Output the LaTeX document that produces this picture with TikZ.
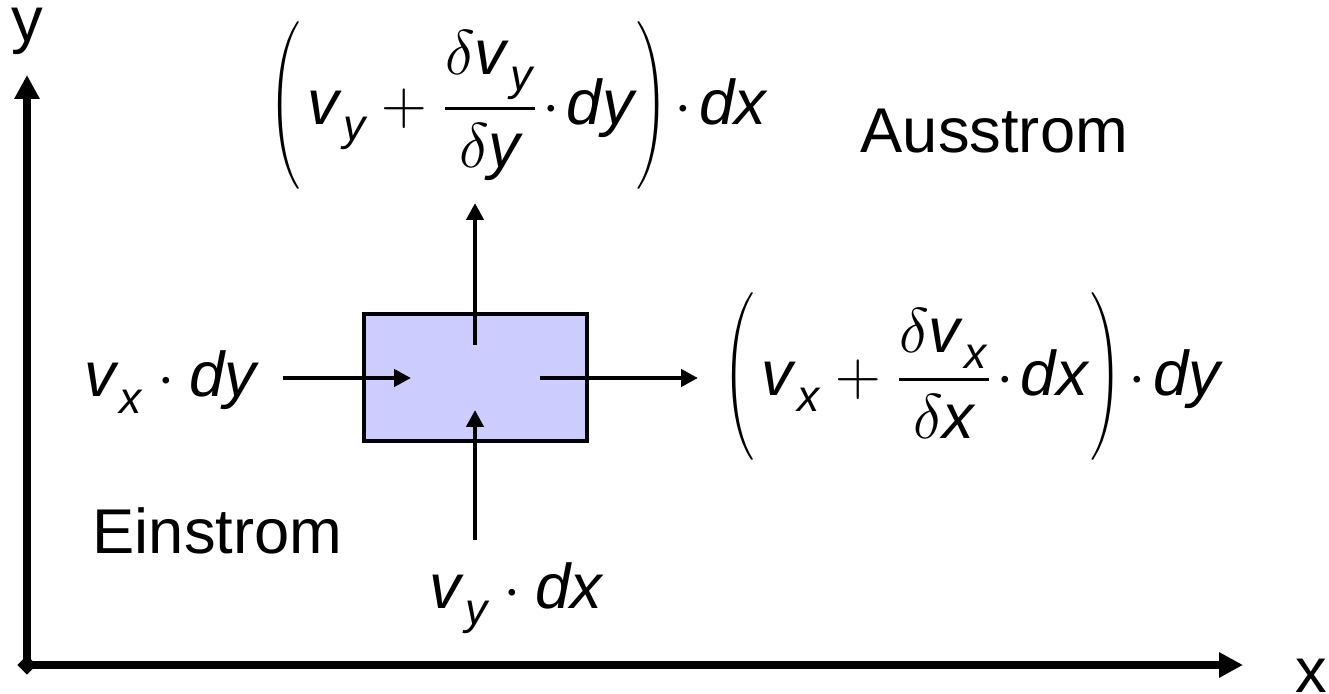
\RequirePackage{fix-cm}
\documentclass[tikz,border=0pt]{standalone}
\usepackage{amsmath}
\usepackage{fontspec}
\setmainfont{Liberation Sans}
\usetikzlibrary{arrows.meta,shapes.geometric,positioning}
\definecolor{cellblue}{HTML}{CCCCFF}
\newcommand{\iv}[1]{\textit{#1}}
\newcommand{\lsub}[1]{_{\kern1.2pt\lower2pt\hbox{$\scriptstyle\textit{#1}$}}}
\newcommand{\tdot}{\mkern1mu{\cdot}\mkern2mu}
\newcommand{\lpar}{\scalebox{0.7}[1.15]{$\displaystyle\left(\vphantom{\dfrac{\delta y}{\delta y}}\right.$}\mkern1mu}
\newcommand{\rpar}{\scalebox{0.7}[1.15]{$\displaystyle\left.\vphantom{\dfrac{\delta y}{\delta y}}\right)$}\mkern1mu}

\begin{document}
\begin{tikzpicture}[every node/.style={inner sep=0pt,font=\fontsize{18}{22}\selectfont},
  flow/.style={line width=1.4pt,-{Triangle[length=0.17cm,width=0.17cm]}},
  axis/.style={line width=2.3pt,-{Triangle[length=0.24cm,width=0.24cm]}}]
     \useasboundingbox (0,0) rectangle (13.29,6.93);
     % axes
     \node at (0.27,0.28)[diamond,fill=black,minimum size=0.2cm](O){};
     \coordinate (ytip) at (0.27,6.18);
     \coordinate (xtip) at (12.43,0.28);
     \draw[axis](O.center)--(ytip);
     \draw[axis](O.center)--(xtip);
     \node at (0.27,6.86)[anchor=north](ylab){y};
     \node at (13.11,0.35)[anchor=north](xlab){x};
     % volume element
     \node at (4.755,3.155)[rectangle,draw=black,line width=1.4pt,fill=cellblue,
        minimum width=2.23cm,minimum height=1.27cm](cell){};
     \coordinate (inx1) at (2.83,3.15);
     \coordinate (inx2) at (4.11,3.15);
     \coordinate (outx1) at (5.40,3.15);
     \coordinate (outx2) at (6.98,3.15);
     \coordinate (iny1) at (4.75,1.53);
     \coordinate (iny2) at (4.75,2.83);
     \coordinate (outy1) at (4.75,3.48);
     \coordinate (outy2) at (4.75,4.90);
     \draw[flow](inx1)--(inx2);
     \draw[flow](outx1)--(outx2);
     \draw[flow](iny1)--(iny2);
     \draw[flow](outy1)--(outy2);
     % labels
     \node at (2.57,2.96)[anchor=base east](vxdy){$\iv{v}\lsub{x}\cdot\iv{dy}$};
     \node at (5.16,0.85)[anchor=base](vydx){$\iv{v}\lsub{y}\cdot\iv{dx}$};
     \node at (9.72,3.16)(vxout){$\displaystyle\lpar\iv{v}\lsub{x}+\frac{\delta\iv{v}\lsub{x}}{\delta\iv{x}}\tdot\iv{dx}\rpar\tdot\iv{dy}$};
     \node at (5.18,5.87)(vyout){$\displaystyle\lpar\iv{v}\lsub{y}+\frac{\delta\iv{v}\lsub{y}}{\delta\iv{y}}\tdot\iv{dy}\rpar\tdot\iv{dx}$};
     \node at (0.92,1.40)[anchor=base west](ein){Einstrom};
     \node at (8.60,5.40)[anchor=base west](aus){Ausstrom};
\end{tikzpicture}
\end{document}
